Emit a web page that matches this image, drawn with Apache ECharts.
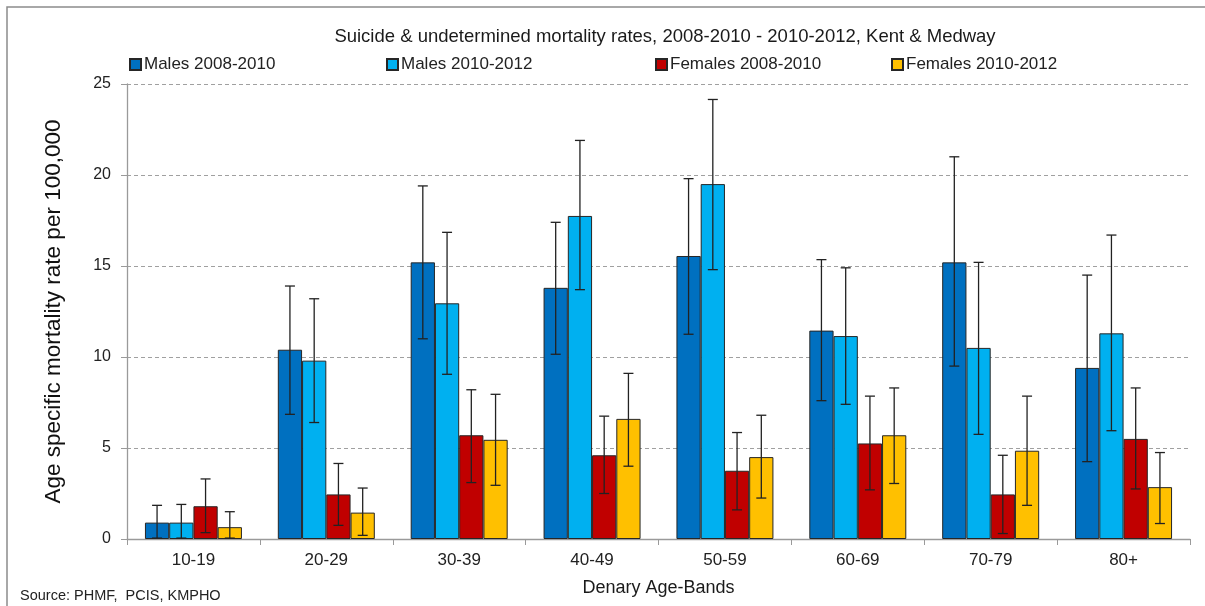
<!DOCTYPE html>
<html>
<head>
<meta charset="utf-8">
<script src="https://cdn.jsdelivr.net/npm/echarts@6/dist/echarts.min.js"></script>
<style>html,body{margin:0;padding:0;background:#fff;}#c{width:1205px;height:606px;}</style>
</head>
<body>
<div id="c"></div>
<script>
var categories = ['10-19','20-29','30-39','40-49','50-59','60-69','70-79','80+'];
var yTicks = [0, 5, 10, 15, 20, 25];
var seriesNames = ['Males 2008-2010','Males 2010-2012','Females 2008-2010','Females 2010-2012'];

var m08   = [0.9, 10.4, 15.2, 13.8, 15.55, 11.45, 15.2, 9.4];
var m08Lo = [0.05, 6.85, 11.0, 10.15, 11.25, 7.6, 9.5, 4.25];
var m08Hi = [1.85, 13.9, 19.4, 17.4, 19.8, 15.35, 21.0, 14.5];

var m10   = [0.9, 9.8, 12.95, 17.75, 19.5, 11.15, 10.5, 11.3];
var m10Lo = [0.05, 6.4, 9.05, 13.7, 14.8, 7.4, 5.75, 5.95];
var m10Hi = [1.9, 13.2, 16.85, 21.9, 24.15, 14.9, 15.2, 16.7];

var f08   = [1.8, 2.45, 5.7, 4.6, 3.75, 5.25, 2.45, 5.5];
var f08Lo = [0.35, 0.75, 3.1, 2.5, 1.6, 2.7, 0.3, 2.75];
var f08Hi = [3.3, 4.15, 8.2, 6.75, 5.85, 7.85, 4.6, 8.3];

var f10   = [0.65, 1.45, 5.45, 6.6, 4.5, 5.7, 4.85, 2.85];
var f10Lo = [0.05, 0.2, 2.95, 4.0, 2.25, 3.05, 1.85, 0.85];
var f10Hi = [1.5, 2.8, 7.95, 9.1, 6.8, 8.3, 7.85, 4.75];

var colors = ['#0070C0', '#00B0F0', '#C00000', '#FFC000'];
var values = [m08, m10, f08, f10];
var lows = [m08Lo, m10Lo, f08Lo, f10Lo];
var highs = [m08Hi, m10Hi, f08Hi, f10Hi];

var GAP = 0.27;
var FONT = 'Liberation Sans';

var chart = echarts.init(document.getElementById('c'));

var series = [];
values.forEach(function (v, k) {
  series.push({
    name: seriesNames[k],
    type: 'bar',
    data: v,
    barGap: '0%',
    barCategoryGap: (GAP * 100) + '%',
    itemStyle: { color: colors[k], borderColor: '#262626', borderWidth: 1 },
    z: 2
  });
});
values.forEach(function (v, k) {
  var d = categories.map(function (c, i) { return [i, lows[k][i], highs[k][i]]; });
  series.push({
    type: 'custom',
    name: seriesNames[k] + ' err',
    data: d,
    encode: { x: 0, y: [1, 2] },
    z: 5,
    silent: true,
    renderItem: function (params, api) {
      var x = api.value(0);
      var lo = api.coord([x, api.value(1)]);
      var hi = api.coord([x, api.value(2)]);
      var band = api.size([1, 0])[0];
      var bw = band * (1 - GAP) / 4;
      var cx = lo[0] + (k - 1.5) * bw;
      var cap = 5;
      var st = { stroke: '#222', lineWidth: 1.3 };
      return {
        type: 'group',
        children: [
          { type: 'line', shape: { x1: cx, y1: lo[1], x2: cx, y2: hi[1] }, style: st },
          { type: 'line', shape: { x1: cx - cap, y1: lo[1], x2: cx + cap, y2: lo[1] }, style: st },
          { type: 'line', shape: { x1: cx - cap, y1: hi[1], x2: cx + cap, y2: hi[1] }, style: st }
        ]
      };
    }
  });
});

var legendLefts = [129, 386, 655, 891];
var legends = seriesNames.map(function (n, k) {
  return {
    data: [n],
    left: legendLefts[k],
    top: 56,
    padding: 0,
    itemWidth: 11,
    itemHeight: 11,
    itemGap: 0,
    icon: 'rect',
    selectedMode: false,
    textStyle: { fontFamily: FONT, fontSize: 17, color: '#222', padding: [0, 0, 0, -2] }
  };
});

chart.setOption({
  animation: false,
  backgroundColor: '#fff',
  title: {
    text: 'Suicide & undetermined mortality rates, 2008-2010 - 2010-2012, Kent & Medway',
    left: 660, textAlign: 'center', top: 22,
    textStyle: { fontFamily: FONT, fontSize: 18.5, fontWeight: 'normal', color: '#1a1a1a' }
  },
  legend: legends,
  grid: { left: 127, right: 15, top: 84, bottom: 67, containLabel: false },
  xAxis: {
    type: 'category',
    data: categories,
    name: 'Denary Age-Bands',
    nameLocation: 'middle',
    nameGap: 40,
    nameTextStyle: { fontFamily: FONT, fontSize: 18, color: '#1a1a1a' },
    axisLine: { lineStyle: { color: '#9a9a9a', width: 1.3 } },
    axisTick: { show: true, length: 6, lineStyle: { color: '#9a9a9a' } },
    axisLabel: { fontFamily: FONT, fontSize: 17, color: '#222', margin: 13 }
  },
  yAxis: {
    type: 'value',
    min: yTicks[0], max: yTicks[yTicks.length - 1], interval: 5,
    name: 'Age specific mortality rate per 100,000',
    nameLocation: 'middle',
    nameGap: 62,
    nameTextStyle: { fontFamily: FONT, fontSize: 22.5, color: '#111' },
    axisLine: { show: true, lineStyle: { color: '#9a9a9a', width: 1.3 } },
    axisTick: { show: true, length: 6, lineStyle: { color: '#9a9a9a' } },
    axisLabel: { fontFamily: FONT, fontSize: 16, color: '#222', margin: 16 },
    splitLine: { lineStyle: { color: '#a0a0a0', type: [4, 3] } }
  },
  graphic: [
    { type: 'rect', shape: { x: 7, y: 7, width: 1300, height: 700 }, style: { fill: 'none', stroke: '#8c8c8c', lineWidth: 1.5 }, silent: true },
    { type: 'text', left: 20, top: 588, style: { text: 'Source: PHMF,  PCIS, KMPHO', fontFamily: FONT, fontSize: 14.5, fill: '#222' } }
  ],
  series: series
});
</script>
</body>
</html>
